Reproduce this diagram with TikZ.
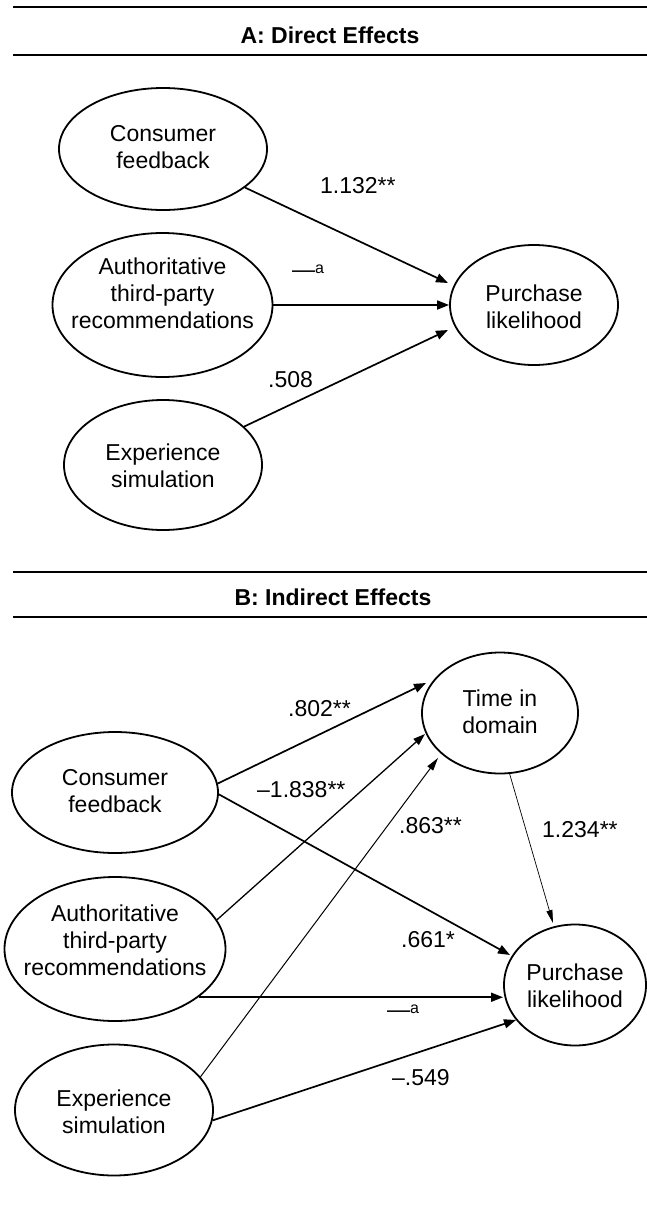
\documentclass[tikz,border=0pt]{standalone}
\usepackage{fontspec}
\setmainfont{Liberation Sans}
\usetikzlibrary{shapes.geometric,arrows.meta,calc}
\newcommand{\ETxt}[2]{\makebox[0pt]{\raisebox{#1}[0pt][0pt]{\begin{tabular}[b]{@{}c@{}}#2\end{tabular}}}}
\tikzset{
  ell/.style={draw, ellipse, line width=1.8pt, inner sep=0pt, font=\fontsize{23}{26.8}\selectfont},
  arr/.style={line width=1.7pt, -{Triangle[length=12pt,width=9pt]}},
  arrmid/.style={line width=1.3pt, -{Triangle[length=12pt,width=8pt]}},
  arrthin/.style={line width=1.0pt, -{Triangle[length=13pt,width=7pt]}},
  arrhair/.style={line width=0.7pt, -{Triangle[length=13pt,width=6pt]}},
  lab/.style={anchor=base west, inner sep=0pt, font=\fontsize{23}{26.8}\selectfont},
  rulestyle/.style={line width=2.4pt},
  ttl/.style={anchor=base, inner sep=0pt, font=\bfseries\fontsize{23}{26}\selectfont}
}
\begin{document}
\begin{tikzpicture}[x=1pt, y=-1pt]
\path[use as bounding box, fill=white] (0,0) rectangle (647,1205);

% ---------- Panel A ----------
\draw[rulestyle] (13,7) -- (647,7);
\draw[rulestyle] (13,55) -- (647,55);
\node[ttl] (titleA) at (330,43) {A: Direct Effects};

\node[ell, minimum width=208pt, minimum height=122pt] (cfA) at (163,149) {\ETxt{-19pt}{Consumer\\feedback}};
\node[ell, minimum width=220pt, minimum height=144pt] (atA) at (162.5,305) {\ETxt{-23pt}{Authoritative\\third-party\\recommendations}};
\node[ell, minimum width=198pt, minimum height=130pt] (esA) at (163,465) {\ETxt{-22pt}{Experience\\simulation}};
\node[ell, minimum width=168pt, minimum height=120pt] (plA) at (534,305) {\ETxt{-23pt}{Purchase\\likelihood}};

\coordinate (tA1) at (448,283);
\coordinate (tA3) at (448,330);
\draw[arr] (cfA) -- (tA1);
\draw[arr] (atA.east) -- (atA.east -| plA.west);
\draw[arr] (esA) -- (tA3);

\node[lab] (lA1) at (320,193) {1.132**};
\node[lab] (lA2) at (292,273) {\raisebox{-4pt}{—}{\fontsize{16}{16}\selectfont a}};
\node[lab] (lA3) at (268,387) {.508};

% ---------- Panel B ----------
\draw[rulestyle] (13,572) -- (647,572);
\draw[rulestyle] (13,617) -- (647,617);
\node[ttl] (titleB) at (333,605) {B: Indirect Effects};

\node[ell, minimum width=206pt, minimum height=121pt] (cfB) at (115,792.5) {\ETxt{-19.5pt}{Consumer\\feedback}};
\node[ell, minimum width=221pt, minimum height=144pt] (atB) at (115,949) {\ETxt{-26pt}{Authoritative\\third-party\\recommendations}};
\node[ell, minimum width=198pt, minimum height=131pt] (esB) at (114,1110) {\ETxt{-23pt}{Experience\\simulation}};
\node[ell, minimum width=156pt, minimum height=121pt] (tdB) at (500,713) {\ETxt{-20pt}{Time in\\domain}};
\node[ell, minimum width=142pt, minimum height=121pt] (plB) at (575,985) {\ETxt{-22pt}{Purchase\\likelihood}};

\coordinate (tT1) at (426,683);
\coordinate (tP1) at (510,955);
\coordinate (tT2) at (425,734);
\coordinate (tT3) at (438,758);
\coordinate (tP3) at (516,1020);
\coordinate (tP4) at (553,923);

\draw[arr] (cfB.5) -- (tT1);
\draw[arr] (cfB.-1) -- (tP1);
\draw[arrmid] (atB.16) -- (tT2);
\draw[arr] (atB.-30) -- (atB.-30 -| plB.west);
\draw[arrthin] (esB.21) -- (tT3);
\draw[arr] (esB.-6) -- (tP3);
\draw[arrhair] (tdB.-81) -- (tP4);

\node[lab] (lB1) at (288,716) {.802**};
\node[lab] (lB2) at (257,797) {–1.838**};
\node[lab] (lB3) at (399,833) {.863**};
\node[lab] (lB4) at (542,837) {1.234**};
\node[lab] (lB5) at (401,947) {.661*};
\node[lab] (lB6) at (387,1013) {\raisebox{-4pt}{—}{\fontsize{16}{16}\selectfont a}};
\node[lab] (lB7) at (392,1085) {–.549};
\end{tikzpicture}
\end{document}
